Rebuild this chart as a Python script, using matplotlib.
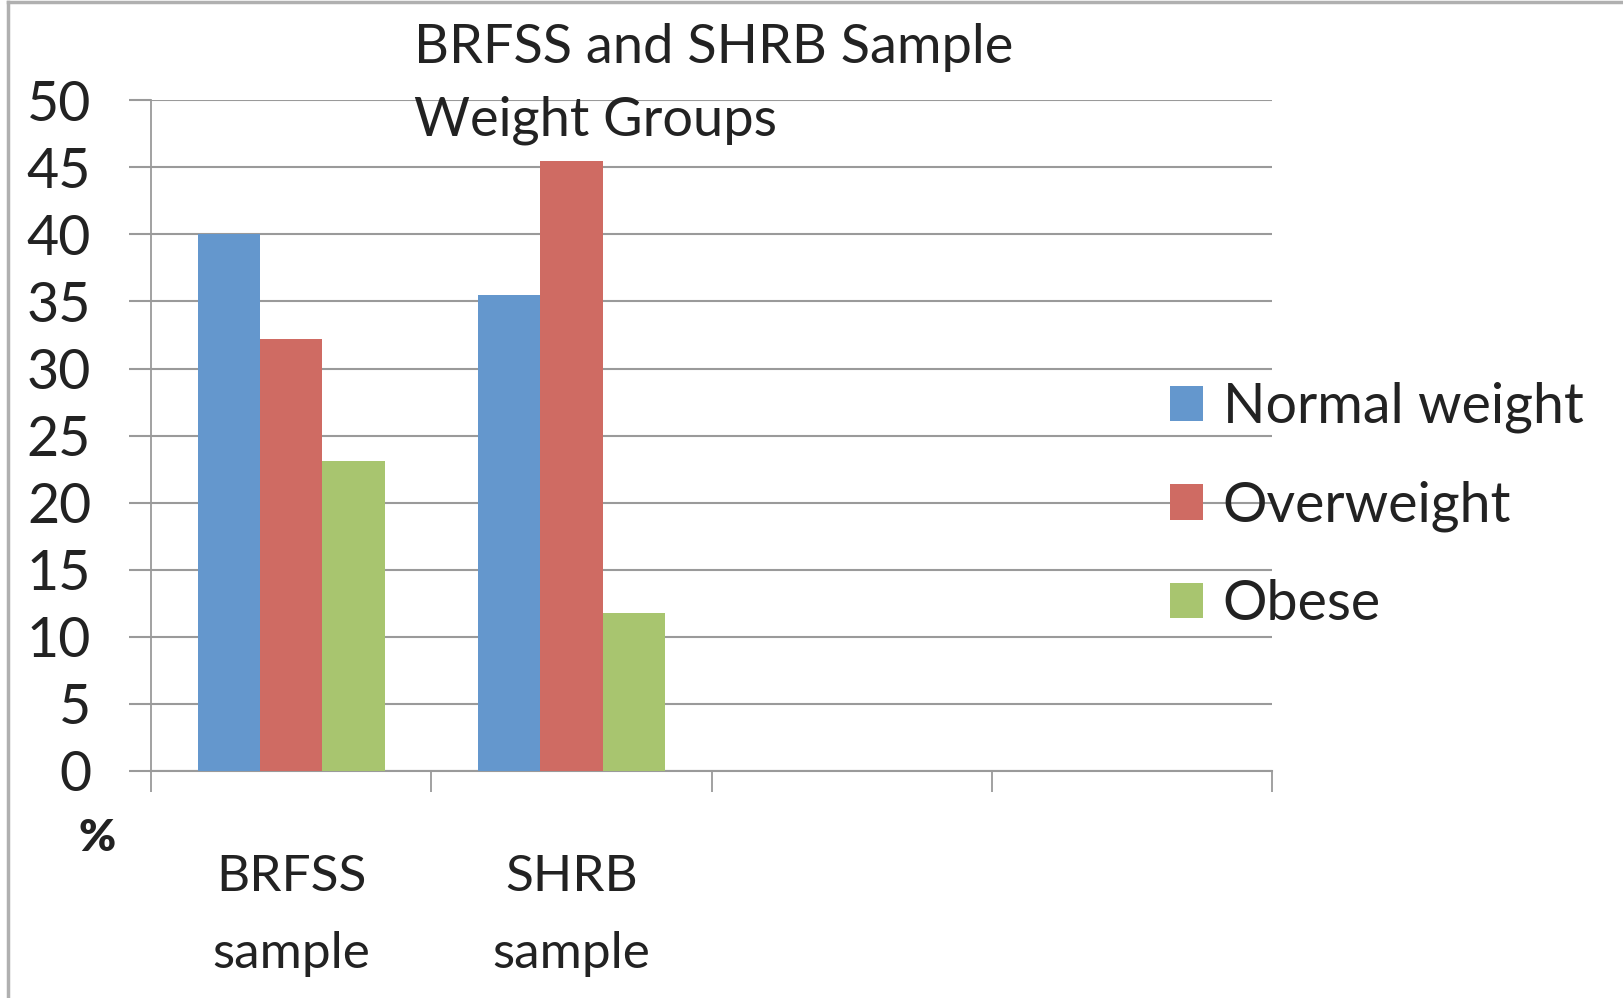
import numpy as np
import matplotlib
matplotlib.use("Agg")
import matplotlib.pyplot as plt
from matplotlib.lines import Line2D

plt.rcParams['font.family'] = ['Lato', 'DejaVu Sans']

# data
groups = ['BRFSS\nsample', 'SHRB\nsample', '', '']
series = ['Normal weight', 'Overweight', 'Obese']
normal = [40.0, 35.5, 0, 0]
overweight = [32.2, 45.5, 0, 0]
obese = [23.1, 11.8, 0, 0]
colors = ['#6497CD', '#CF6B63', '#A8C56F']
yticks = [0, 5, 10, 15, 20, 25, 30, 35, 40, 45, 50]

fig = plt.figure(figsize=(16.23, 9.98), dpi=100)
ax = fig.add_axes([0.093, 0.2275, 0.691, 0.672])

x = np.arange(len(groups))
w = 1 / 4.5
for i, (vals, c) in enumerate(zip([normal, overweight, obese], colors)):
    ax.bar(x + (i - 1) * w, vals, w, color=c, label=series[i], zorder=3)

ax.set_xlim(-0.5, len(groups) - 0.5)
ax.set_ylim(0, 50)
ax.set_yticks(yticks)
ax.yaxis.grid(True, color='#9a9a9a', linewidth=1.5, zorder=0)

# category separator ticks on the x axis, labels in between
ax.set_xticks(np.arange(len(groups) + 1) - 0.5)
ax.set_xticklabels([])
ax.set_xticks(x, minor=True)
ax.set_xticklabels(groups, minor=True, fontsize=37, linespacing=1.82, color='#222222')
ax.tick_params(axis='x', which='minor', length=0, pad=60)
ax.tick_params(axis='x', which='major', length=15, width=1.3, color='#9a9a9a')
ax.tick_params(axis='y', length=16, width=1.5, color='#9a9a9a', labelsize=40,
               pad=27, labelcolor='#222222')

for s in ['top', 'right']:
    ax.spines[s].set_visible(False)
ax.spines['left'].set_color('#9a9a9a')
ax.spines['bottom'].set_color('#9a9a9a')
ax.spines['left'].set_linewidth(1.3)
ax.spines['bottom'].set_linewidth(1.5)

fig.text(0.255, 0.977, 'BRFSS and SHRB Sample\nWeight Groups', fontsize=39,
         ha='left', va='top', linespacing=1.6, color='#222222')
fig.text(0.06, 0.16, '%', fontsize=32, fontweight='heavy', ha='center', va='center',
         color='#222222')

fig.legend(loc='center left', bbox_to_anchor=(0.69, 0.493), fontsize=40,
           frameon=False, handlelength=0.6, handleheight=0.6, handletextpad=0.35,
           labelspacing=0.85, labelcolor='#222222')

# light grey frame of the original chart area
fig.add_artist(Line2D([0.005, 0.005], [0, 0.998], color='#b0b0b0', lw=2.5))
fig.add_artist(Line2D([0.005, 1], [0.998, 0.998], color='#b0b0b0', lw=2.5))

fig.savefig('out.png', dpi=100)
